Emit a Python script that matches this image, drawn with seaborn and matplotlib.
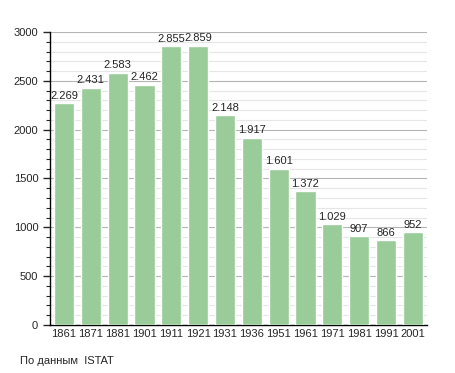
import numpy as np
import pandas as pd
import matplotlib
matplotlib.use("Agg")
import matplotlib.pyplot as plt
import seaborn as sns
from matplotlib.ticker import MultipleLocator

# Population by census year
years = ["1861", "1871", "1881", "1901", "1911", "1921", "1931",
         "1936", "1951", "1961", "1971", "1981", "1991", "2001"]
population = [2269, 2431, 2583, 2462, 2855, 2859, 2148,
              1917, 1601, 1372, 1029, 907, 866, 952]
labels = ["2.269", "2.431", "2.583", "2.462", "2.855", "2.859", "2.148",
          "1.917", "1.601", "1.372", "1.029", "907", "866", "952"]

df = pd.DataFrame({"Year": years, "Population": population})

sns.set_style("white")
plt.rcParams["font.family"] = ["Liberation Sans", "DejaVu Sans"]

fig = plt.figure(figsize=(4.55, 3.73), dpi=100)
ax = fig.add_axes([0.110, 0.129, 0.828, 0.785])

sns.barplot(data=df, x="Year", y="Population", color="#99cc99",
            saturation=1, width=0.75, ax=ax, zorder=3)

for i, (v, lab) in enumerate(zip(population, labels)):
    ax.text(i, v + 25, lab, ha="center", va="bottom", fontsize=8, zorder=4)

ax.set_ylim(0, 3000)
ax.set_xlim(-0.52, len(years) - 0.48)
ax.yaxis.set_major_locator(MultipleLocator(500))
ax.yaxis.set_minor_locator(MultipleLocator(100))
ax.grid(axis="y", which="major", color="#b4b4b4", linewidth=0.8, zorder=0)
ax.grid(axis="y", which="minor", color="#e6e6e6", linewidth=0.8, zorder=0)
ax.set_axisbelow(True)

ax.tick_params(axis="y", which="major", direction="out", length=5, width=1,
               left=True, labelsize=8)
ax.tick_params(axis="y", which="minor", direction="out", length=3, width=0.8,
               left=True)
ax.tick_params(axis="x", length=0, labelsize=8, pad=3)

for s in ["top", "right"]:
    ax.spines[s].set_visible(False)
for s in ["left", "bottom"]:
    ax.spines[s].set_color("black")
    ax.spines[s].set_linewidth(1)

ax.set_xlabel("")
ax.set_ylabel("")

fig.text(0.044, 0.018, "По данным  ISTAT", fontsize=8, ha="left", va="bottom")

fig.savefig("out.png", dpi=100)
